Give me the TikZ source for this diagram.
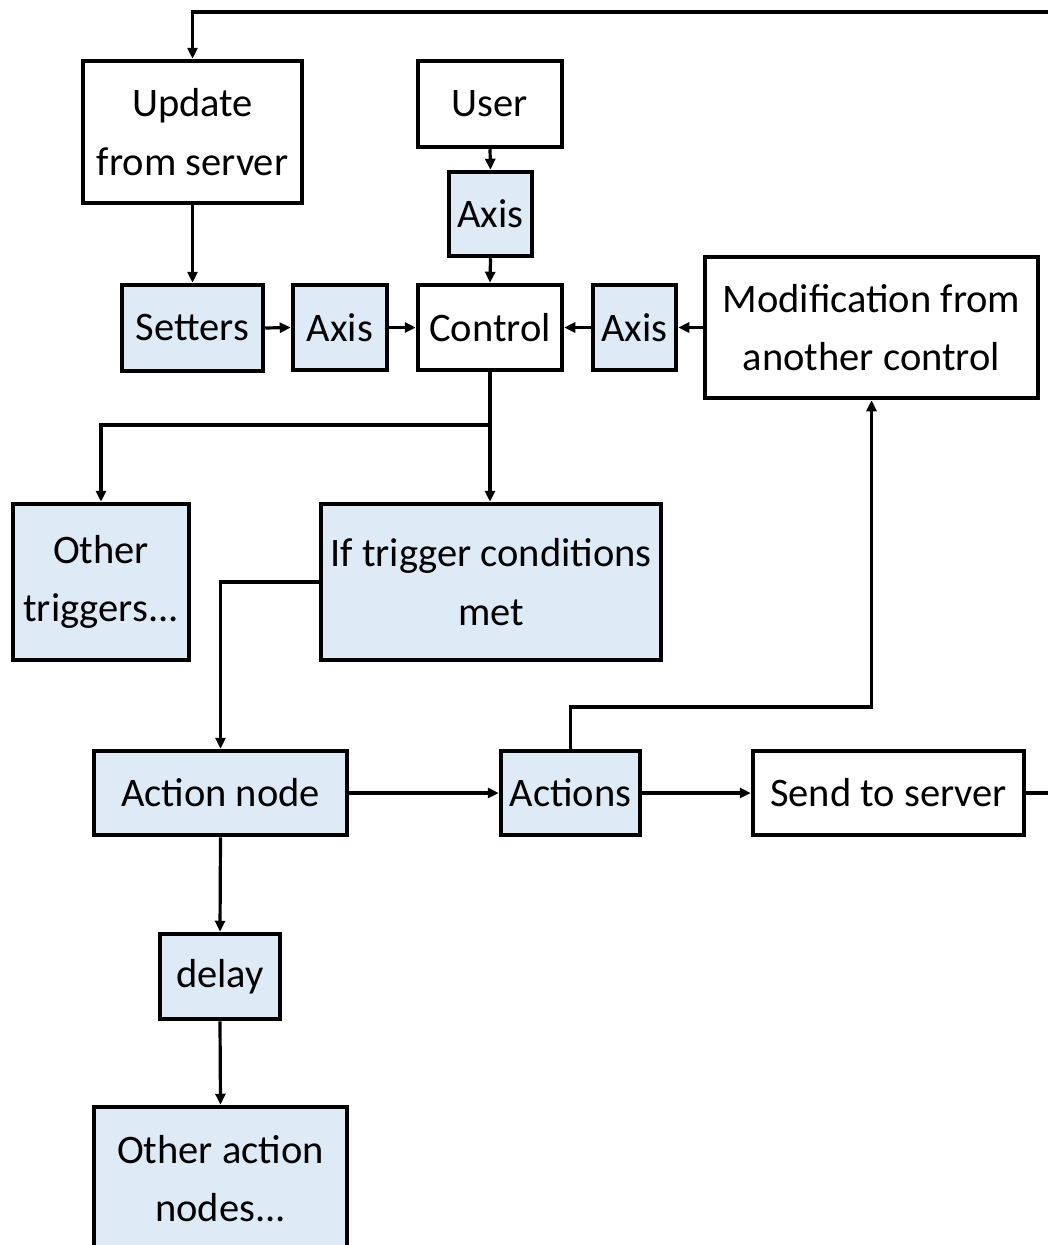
\documentclass[tikz,border=0pt]{standalone}
\usepackage{fontspec}
\setmainfont{Carlito}
\usetikzlibrary{arrows.meta}
\definecolor{boxblue}{RGB}{222,234,246}
\tikzset{
  box/.style={draw=black, line width=4.5pt, inner sep=0pt, align=center,
    font=\fontsize{40.5}{58.5}\selectfont},
  bluebox/.style={box, fill=boxblue},
  whitebox/.style={box, fill=white},
  conn/.style={line width=3.2pt, -{Triangle[length=11pt,width=10pt]}},
  plain/.style={line width=3.2pt},
}
\begin{document}
\begin{tikzpicture}[x=1pt,y=-1pt]
\useasboundingbox (0,0) rectangle (1048,1245);
\clip (0,0) rectangle (1048,1245);
\fill[white] (0,0) rectangle (1048,1245);

\node[whitebox, minimum width=219pt, minimum height=142pt] (upd) at (192.5,132) {Update\\from server};
\node[whitebox, minimum width=144pt, minimum height=86pt] (user) at (490,104) {User};
\node[bluebox, minimum width=83pt, minimum height=84pt] (axT) at (490.5,214) {Axis};
\node[bluebox, minimum width=141pt, minimum height=86pt] (set) at (192.5,328) {Setters};
\node[bluebox, minimum width=94pt, minimum height=85pt] (axL) at (340,327.5) {Axis};
\node[whitebox, minimum width=144pt, minimum height=85pt] (ctrl) at (490,327.5) {Control};
\node[bluebox, minimum width=83pt, minimum height=85pt] (axR) at (634.5,327.5) {Axis};
\node[whitebox, minimum width=333pt, minimum height=141pt] (mod) at (871.5,327.5) {Modification from\\another control};
\node[bluebox, minimum width=176pt, minimum height=156pt] (oth) at (101,582) {Other\\triggers...};
\node[bluebox, minimum width=340pt, minimum height=156pt] (trig) at (491,582) {If trigger conditions\\met};
\node[bluebox, minimum width=253pt, minimum height=84pt] (act) at (220.5,793) {Action node};
\node[bluebox, minimum width=139pt, minimum height=84pt] (acts) at (570.5,793) {Actions};
\node[whitebox, minimum width=271pt, minimum height=84pt] (send) at (888.5,793) {Send to server};
\node[bluebox, minimum width=120pt, minimum height=85pt] (delay) at (220,976.5) {delay};
\node[bluebox, minimum width=253pt, minimum height=143pt] (oan) at (220.5,1178.5) {Other action\\nodes...};

\coordinate (loopR) at (1065,12);
\coordinate (split) at (490,425);
\coordinate (bend) at (871.5,707);

\draw[conn] (send.east) -| (loopR) -| (upd.north);
\draw[conn] (upd.south) -- (set.north);
\draw[conn] (user.south) -- (axT.north);
\draw[conn] (axT.south) -- (ctrl.north);
\draw[conn] (set.east) -- (axL.west);
\draw[conn] (axL.east) -- (ctrl.west);
\draw[conn] (axR.west) -- (ctrl.east);
\draw[conn] (mod.west) -- (axR.east);
\draw[plain] (ctrl.south) -- (split);
\draw[conn] (split) -| (oth.north);
\draw[conn] (split) -- (split |- trig.north);
\draw[conn] (trig.west) -| (act.north);
\draw[conn] (act.east) -- (acts.west);
\draw[conn] (acts.east) -- (send.west);
\draw[conn] (acts.north) |- (bend) -- (mod.south);
\draw[conn] (act.south) -- (delay.north);
\draw[conn] (delay.south) -- (oan.north);
\end{tikzpicture}
\end{document}
